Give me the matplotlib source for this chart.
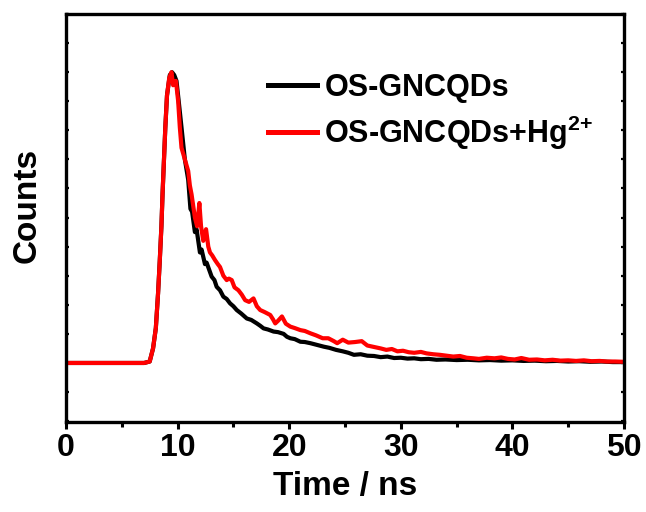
import matplotlib
matplotlib.use("Agg")
import matplotlib.pyplot as plt
from matplotlib.ticker import MultipleLocator, NullFormatter
import numpy as np

plt.rcParams['font.family'] = ['Liberation Sans', 'DejaVu Sans']
plt.rcParams['font.weight'] = 'bold'
plt.rcParams['mathtext.fontset'] = 'custom'
plt.rcParams['mathtext.rm'] = 'Liberation Sans:bold'
plt.rcParams['mathtext.bf'] = 'Liberation Sans:bold'

# OS-GNCQDs (black)
t_black = [0, 7.0, 7.5, 7.8, 8.05, 8.25, 8.4, 8.55, 8.65, 8.78, 8.9, 9.05, 9.3, 9.5, 9.7, 9.9,
           10.1, 10.35, 10.65, 10.95, 11.15, 11.3, 11.55, 11.7, 12.0, 12.15, 12.45, 12.6, 13.05,
           13.3, 13.5, 13.8, 14.1, 14.4, 14.7, 15.0, 15.3, 15.7, 16.2, 16.6, 17.1, 17.4, 17.7,
           18.1, 18.6, 19.0, 19.5, 19.8, 20.1, 20.5, 21.0, 21.4, 21.9, 22.5, 23.1, 23.6, 24.2,
           24.8, 25.3, 25.8, 26.4, 27.0, 27.6, 28.2, 28.8, 29.4, 30.0, 30.6, 31.2, 31.8, 32.5,
           33.2, 34.0, 35.0, 36.0, 37.0, 38.0, 39.0, 40.0, 41.0, 42.0, 43.0, 44.0, 45.0, 46.0,
           47.0, 48.0, 49.0, 50.0]
v_black = [0, 0, 0.005, 0.05, 0.12, 0.24, 0.35, 0.47, 0.58, 0.70, 0.81, 0.92, 0.99, 1.0, 0.99, 0.97,
           0.90, 0.81, 0.70, 0.63, 0.53, 0.52, 0.45, 0.46, 0.38, 0.39, 0.34, 0.345, 0.297,
           0.285, 0.262, 0.25, 0.228, 0.22, 0.205, 0.195, 0.182, 0.17, 0.153, 0.148, 0.136, 0.128, 0.119,
           0.115, 0.108, 0.106, 0.10, 0.09, 0.085, 0.082, 0.073, 0.072, 0.068, 0.062, 0.056, 0.052, 0.045,
           0.04, 0.035, 0.028, 0.03, 0.025, 0.024, 0.02, 0.022, 0.017, 0.018, 0.015, 0.016, 0.013, 0.014,
           0.011, 0.012, 0.010, 0.011, 0.009, 0.01, 0.008, 0.009, 0.007, 0.008, 0.006, 0.007, 0.005, 0.006,
           0.004, 0.005, 0.003, 0.003]

# OS-GNCQDs+Hg2+ (red)
t_red = [0, 7.0, 7.5, 7.8, 8.05, 8.25, 8.4, 8.55, 8.65, 8.78, 8.9, 9.05, 9.25, 9.45, 9.6, 9.85,
         10.05, 10.2, 10.35, 10.65, 10.95, 11.1, 11.25, 11.55, 11.75, 11.95, 12.1, 12.3, 12.55,
         12.75, 12.9, 13.1, 13.35, 13.6, 13.8, 14.1, 14.4, 14.6, 14.85, 15.1, 15.45, 15.75, 16.05,
         16.4, 16.8, 17.1, 17.4, 17.8, 18.3, 18.55, 18.75, 19.0, 19.35, 19.7, 20.1, 20.5, 21.0,
         21.4, 21.9, 22.4, 23.0, 23.5, 24.0, 24.3, 24.8, 25.3, 25.9, 26.5, 27.0, 27.6, 28.2,
         28.7, 29.2, 29.7, 30.2, 30.7, 31.2, 31.8, 32.3, 32.9, 33.5, 34.1, 34.7, 35.3, 35.9,
         36.5, 37.0, 37.7, 38.4, 39.0, 39.6, 40.2, 40.8, 41.5, 42.2, 42.9, 43.6, 44.3, 45.0,
         45.7, 46.4, 47.1, 47.8, 48.5, 49.2, 50.0]
v_red = [0, 0, 0.005, 0.05, 0.12, 0.24, 0.35, 0.47, 0.58, 0.70, 0.81, 0.92, 0.98, 1.0, 0.955, 0.97,
         0.90, 0.81, 0.74, 0.70, 0.66, 0.61, 0.58, 0.50, 0.47, 0.55, 0.47, 0.42, 0.46,
         0.40, 0.38, 0.37, 0.354, 0.34, 0.33, 0.30, 0.285, 0.29, 0.285, 0.26, 0.25, 0.235, 0.216,
         0.21, 0.222, 0.195, 0.182, 0.175, 0.165, 0.15, 0.136, 0.145, 0.16, 0.135, 0.125, 0.12, 0.113,
         0.11, 0.102, 0.095, 0.085, 0.085, 0.075, 0.068, 0.08, 0.07, 0.072, 0.075, 0.06, 0.055, 0.05,
         0.045, 0.048, 0.04, 0.042, 0.037, 0.035, 0.038, 0.033, 0.03, 0.028, 0.025, 0.022, 0.024, 0.018,
         0.016, 0.014, 0.018, 0.016, 0.019, 0.014, 0.012, 0.017, 0.011, 0.012, 0.009, 0.011, 0.008, 0.009,
         0.007, 0.009, 0.006, 0.007, 0.005, 0.005, 0.004]

labels = ['OS-GNCQDs', r'OS-GNCQDs+Hg$^{2{+}}$']
colors = ['#000000', '#ff0000']

fig = plt.figure(figsize=(6.46, 5.12), dpi=100)
ax = fig.add_axes([66/646, 1-422/512, (624-66)/646, (422-14)/512])

ax.plot(t_black, v_black, color=colors[0], lw=3.0, label=labels[0])
ax.plot(t_red, v_red, color=colors[1], lw=3.0, label=labels[1])

ax.set_xlim(0, 50)
ax.set_ylim(-0.203, 1.2)
ax.xaxis.set_major_locator(MultipleLocator(10))
ax.xaxis.set_minor_locator(MultipleLocator(5))
ax.yaxis.set_major_locator(MultipleLocator(0.1))
ax.yaxis.set_major_formatter(NullFormatter())
ax.tick_params(axis='x', which='major', direction='out', length=5, width=2.2,
               labelsize=23, pad=3, top=False)
ax.tick_params(axis='x', which='minor', direction='out', length=3.5, width=2.2, top=False)
ax.tick_params(axis='y', which='major', direction='in', length=2, width=1.6,
               left=True, right=True)
for s in ax.spines.values():
    s.set_linewidth(2.4)

ax.set_xlabel('Time / ns', fontsize=24, fontweight='bold', labelpad=6)
ax.set_ylabel('Counts', fontsize=24, fontweight='bold')
ax.yaxis.set_label_coords(-0.042, 0.53)

leg = ax.legend(loc='upper left', bbox_to_anchor=(0.34, 0.885), frameon=False,
                fontsize=22, handlelength=1.6, handletextpad=0.25, labelspacing=0.35,
                borderaxespad=0)
for line in leg.get_lines():
    line.set_linewidth(3.6)

fig.savefig('out.png', dpi=100)
